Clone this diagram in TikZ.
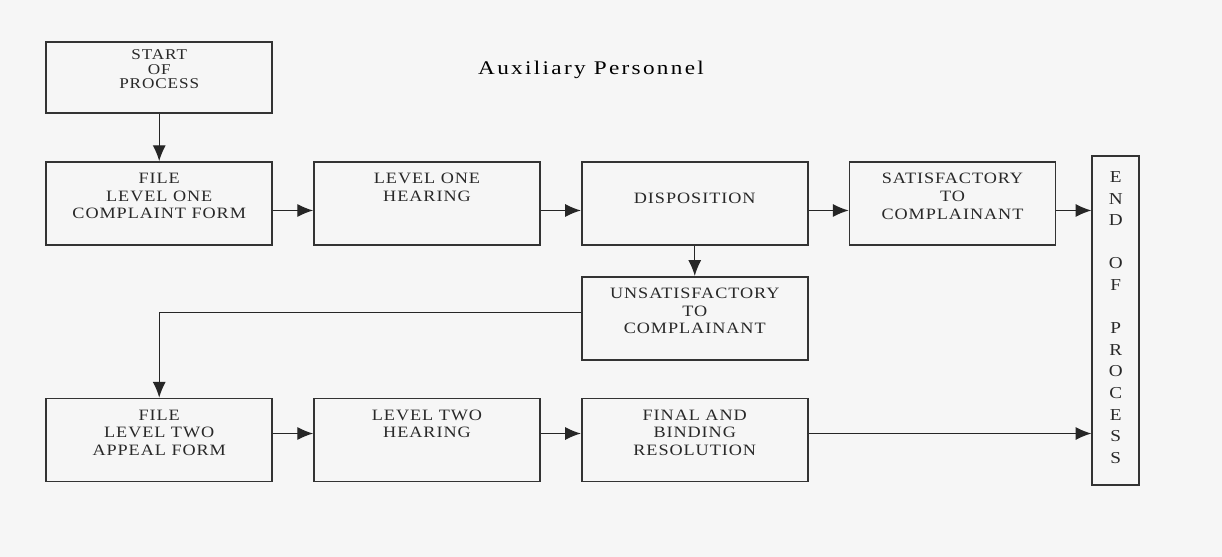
\documentclass[tikz,border=0pt]{standalone}
\usepackage{fontspec}
\setmainfont{Liberation Serif}
\newfontfamily\boxfont{Liberation Serif}[FakeStretch=1.15,LetterSpace=6]
\newfontfamily\titlefont{Liberation Serif}[FakeStretch=1.2,LetterSpace=12]
\usetikzlibrary{
  matrix,
  arrows.meta
}
\definecolor{inkgray}{RGB}{40,40,40}
\definecolor{paper}{RGB}{246,246,246}
\newcommand{\steptext}[2][4.52cm]{\parbox[c][1.66cm][t]{#1}{\centering\vspace*{6.5pt}#2}}

\begin{document}
\begin{tikzpicture}[
  stepbox/.style={
    draw=black!80,
    line width=1pt,
    rectangle,
    fill=none,
    inner sep=0pt,
    text=inkgray,
  },
  flow/.style={
    matrix of nodes,
    nodes={
      stepbox,
      font=\boxfont\fontsize{9}{10}\selectfont
    },
    column sep=0.80cm,
    row sep=0.60cm,
    inner sep=0pt
  },
  link/.style={
    ->,
    draw=black!85,
    line width=0.7pt
  },
  >={Latex[length=9pt,width=7.5pt]}
]

\fill[paper] (0,0) rectangle (24.44,-11.14);

\node (title) at (11.82,-1.40) {\titlefont\fontsize{11}{13}\selectfont Auxiliary Personnel};

\matrix[flow, anchor=north west] (mat) at (0.90,-0.82) {
  % Start row
  \parbox[c][1.42cm][t]{4.52cm}{\centering\fontsize{8.5}{8.2}\selectfont\vspace*{4.4pt}START\\OF\\PROCESS} & & & \\[0.34cm]
  % Level one
  \steptext{FILE\\LEVEL ONE\\COMPLAINT FORM} &
  \steptext{LEVEL ONE\\HEARING} &
  \steptext{\vspace*{11pt}DISPOSITION} &
  \steptext[4.12cm]{SATISFACTORY\\TO\\COMPLAINANT} \\
  % Not satisfied
  & & \steptext{UNSATISFACTORY\\TO\\COMPLAINANT} & \\[0.14cm]
  % Level two
  \steptext{FILE\\LEVEL TWO\\APPEAL FORM} &
  \steptext{LEVEL TWO\\HEARING} &
  \steptext{FINAL AND\\BINDING\\RESOLUTION} & \\
};

\node[stepbox, anchor=north west, font=\boxfont] (endbox) at ([xshift=0.70cm,yshift=0.12cm]mat-2-4.north east)
  {\parbox[c][6.58cm][t]{0.94cm}{\centering\fontsize{9.5}{12.3}\selectfont\vspace*{8.8pt}E\\N\\D\\[12.3pt]O\\F\\[12.3pt]P\\R\\O\\C\\E\\S\\S}};

% Arrows level one
\draw[link] (mat-1-1) -- (mat-2-1);
\draw[link] ([yshift=-0.14cm]mat-2-1.east) -- ([yshift=-0.14cm]mat-2-2.west);
\draw[link] ([yshift=-0.14cm]mat-2-2.east) -- ([yshift=-0.14cm]mat-2-3.west);
\draw[link] ([yshift=-0.14cm]mat-2-3.east) -- ([yshift=-0.14cm]mat-2-4.west);
\draw[link] ([yshift=-0.14cm]mat-2-4.east) -- ([yshift=-0.14cm]mat-2-4.east -| endbox.west);
\draw[link] (mat-2-3) -- (mat-3-3);

% Arrows level two
\draw[link] ([yshift=0.11cm]mat-3-3.west) -| (mat-4-1.north);
\draw[link] ([yshift=0.13cm]mat-4-1.east) -- ([yshift=0.13cm]mat-4-2.west);
\draw[link] ([yshift=0.13cm]mat-4-2.east) -- ([yshift=0.13cm]mat-4-3.west);
\draw[link] ([yshift=0.13cm]mat-4-3.east) -- ([yshift=0.13cm]mat-4-3.east -| endbox.west);

\end{tikzpicture}
\end{document}
